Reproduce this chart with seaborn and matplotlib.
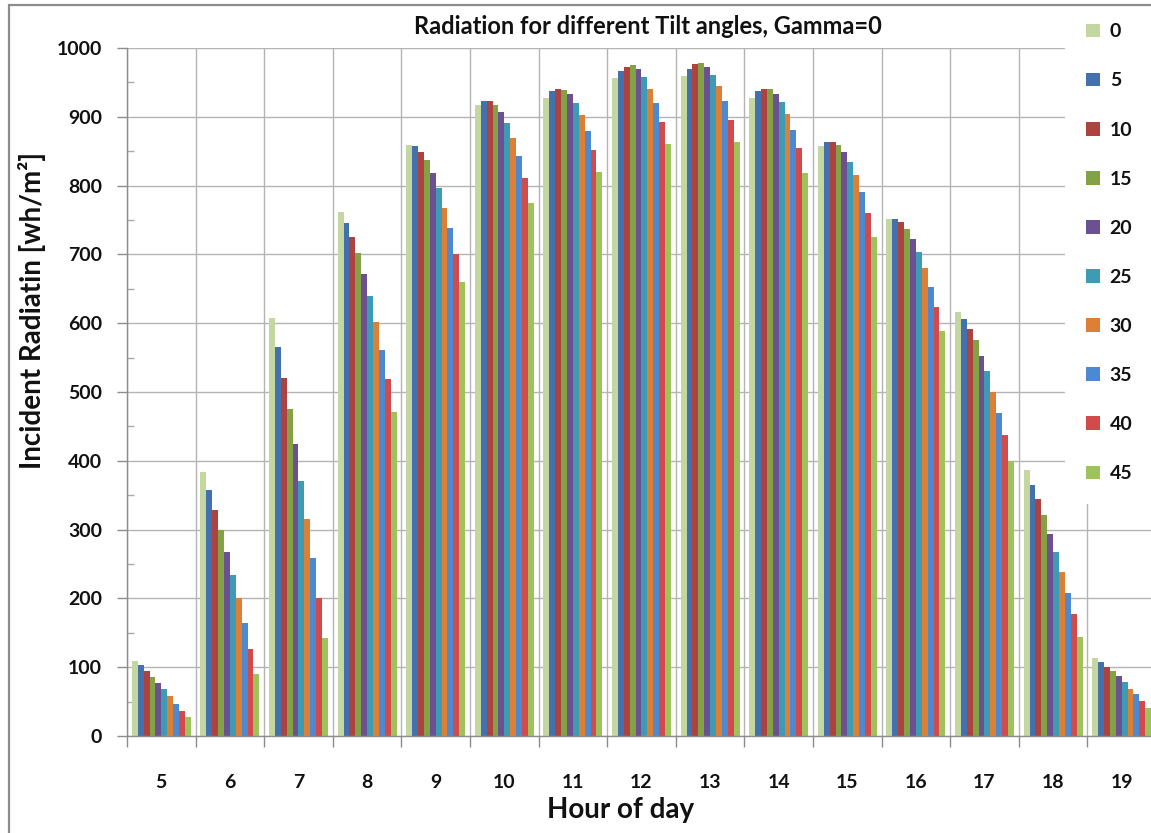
import matplotlib
matplotlib.use("Agg")
import matplotlib.pyplot as plt
from matplotlib.patches import Rectangle
from matplotlib.ticker import MultipleLocator, FixedLocator
import pandas as pd
import seaborn as sns

# Hourly incident radiation (wh/m2) for each collector tilt angle, Gamma = 0
hours = [5, 6, 7, 8, 9, 10, 11, 12, 13, 14, 15, 16, 17, 18, 19]
tilt_labels = ["0", "5", "10", "15", "20", "25", "30", "35", "40", "45"]

tilt_0 = [109, 383, 607, 761, 859, 917, 928, 957, 959, 928, 858, 751, 617, 386, 113]
tilt_5 = [103, 357, 566, 746, 857, 923, 938, 967, 970, 938, 863, 751, 606, 365, 108]
tilt_10 = [95, 328, 521, 726, 849, 923, 941, 973, 977, 941, 863, 747, 592, 345, 101]
tilt_15 = [86, 299, 475, 702, 837, 917, 939, 975, 978, 940, 859, 737, 575, 321, 94]
tilt_20 = [77, 268, 424, 672, 819, 907, 933, 969, 972, 933, 849, 722, 553, 294, 87]
tilt_25 = [68, 234, 371, 640, 796, 891, 920, 958, 961, 922, 834, 704, 530, 268, 78]
tilt_30 = [58, 200, 316, 602, 768, 869, 902, 941, 945, 904, 815, 680, 500, 238, 69]
tilt_35 = [47, 164, 259, 561, 738, 843, 880, 920, 923, 881, 790, 652, 470, 208, 61]
tilt_40 = [36, 126, 201, 519, 701, 811, 852, 893, 896, 854, 760, 623, 437, 177, 51]
tilt_45 = [27, 90, 142, 471, 660, 775, 820, 861, 863, 818, 726, 589, 399, 144, 41]

series = [tilt_0, tilt_5, tilt_10, tilt_15, tilt_20,
          tilt_25, tilt_30, tilt_35, tilt_40, tilt_45]

colors = ["#C4D7A0", "#4371AE", "#AE423F", "#82A245", "#6C5192",
          "#3E9BB4", "#DD8036", "#4D89D0", "#D24B4A", "#9EC35A"]

rows = []
for label, values in zip(tilt_labels, series):
    for h, v in zip(hours, values):
        rows.append({"hour": str(h), "tilt": label, "radiation": v})
df = pd.DataFrame(rows)

sns.set_theme(style="white")
plt.rcParams["font.family"] = ["Lato", "DejaVu Sans"]

W, H = 1151, 833
fig = plt.figure(figsize=(W / 100, H / 100), dpi=100)
ax = fig.add_axes([127 / W, (H - 736) / H, 1029 / W, 688 / H])

sns.barplot(data=df, x="hour", y="radiation", hue="tilt",
            order=[str(h) for h in hours], hue_order=tilt_labels,
            palette=colors, saturation=1, width=0.86, gap=0,
            edgecolor="none", linewidth=0, errorbar=None, ax=ax, zorder=2)

grid_col = "#B4B4B4"
ax.set_ylim(0, 1000)
ax.set_xlim(-0.5, len(hours) - 0.5)

# y axis: major ticks every 100 (outward), minor every 50 (inward)
ax.yaxis.set_major_locator(MultipleLocator(100))
ax.yaxis.set_minor_locator(MultipleLocator(50))
ax.tick_params(axis="y", which="major", direction="out", length=7, width=1,
               color="#8C8C8C", pad=11, labelsize=14, left=True)
ax.tick_params(axis="y", which="minor", direction="in", length=5, width=1,
               color="#AAAAAA", left=True)

# x axis: category boundaries carry the ticks and vertical grid
ax.xaxis.set_minor_locator(FixedLocator([i + 0.5 for i in range(-1, len(hours))]))
ax.tick_params(axis="x", which="major", length=0, pad=27, labelsize=14)
ax.tick_params(axis="x", which="minor", direction="out", length=8, width=1,
               color="#8C8C8C", bottom=True)

for lbl in ax.get_xticklabels() + ax.get_yticklabels():
    lbl.set_fontweight("bold")
    lbl.set_color("#111111")

ax.grid(True, axis="y", which="major", color=grid_col, linewidth=1, zorder=0)
ax.grid(True, axis="x", which="minor", color=grid_col, linewidth=1, zorder=0)
ax.set_axisbelow(True)

for side in ["top", "right"]:
    ax.spines[side].set_visible(False)
for side in ["left", "bottom"]:
    ax.spines[side].set_color("#8C8C8C")
    ax.spines[side].set_linewidth(1)

ax.set_xlabel("Hour of day", fontsize=20, fontweight="bold", color="#111111")
ax.xaxis.set_label_coords(0.480, -0.0887)
ax.set_ylabel("Incident Radiatin [wh/m²]", fontsize=20, fontweight="bold",
              color="#111111")
ax.yaxis.set_label_coords(-0.0787, 0.618)

fig.text(648 / W, 1 - 27 / H, "Radiation for different Tilt angles, Gamma=0",
         ha="center", va="center", fontsize=17, fontweight="bold",
         color="#111111")

# legend on a white panel at the right, hiding the grid behind it
handles, labels = ax.get_legend_handles_labels()
leg = ax.legend(handles, labels, loc="upper left",
                bbox_to_anchor=(1065 / W, 1 - 2 / H),
                bbox_transform=fig.transFigure, frameon=True, fancybox=False,
                framealpha=1, facecolor="white", edgecolor="none",
                handlelength=0.7, handleheight=0.7, handletextpad=0.5,
                labelspacing=1.65, borderpad=1.1, borderaxespad=0,
                fontsize=14)
for t in leg.get_texts():
    t.set_fontweight("bold")
    t.set_color("#111111")
leg.set_zorder(5)

# outer chart border
fig.add_artist(Rectangle((9 / W, -0.1), 1.2, 1.1 - 5 / H, fill=False,
                         edgecolor="#8C8C8C", linewidth=1.6,
                         transform=fig.transFigure))

fig.savefig("out.png", dpi=100)
